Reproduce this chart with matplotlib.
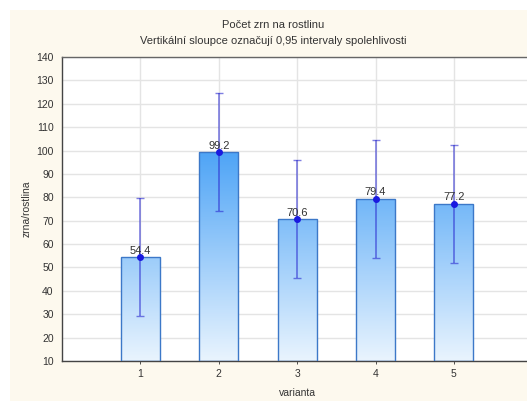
import numpy as np
import matplotlib
matplotlib.use("Agg")
import matplotlib.pyplot as plt
from matplotlib.patches import Rectangle
from matplotlib.colors import LinearSegmentedColormap

plt.rcParams['font.family'] = ['Liberation Sans', 'DejaVu Sans']

# prumery a 95% intervaly spolehlivosti
varianta = [1, 2, 3, 4, 5]
prumer = [54.4, 99.2, 70.6, 79.4, 77.2]
ci_half = [25.2, 25.2, 25.2, 25.2, 25.2]
yticks = list(range(10, 141, 10))

fig = plt.figure(figsize=(5.27, 4.01), dpi=100)
fig.patch.set_facecolor('white')
fig.patches.append(Rectangle((10 / 527, 0), 1, 391 / 401, transform=fig.transFigure,
                             facecolor='#fdf9ee', edgecolor='none', zorder=-10))

ax = fig.add_axes([62 / 527, 40 / 401, 1 - 62 / 527 + 0.01, 304 / 401])
ax.set_facecolor('white')
ax.set_xlim(0, 6)
ax.set_ylim(10, 140)

cmap = LinearSegmentedColormap.from_list('modra', ['#e9f4fe', '#4aa2f6'])
width = 0.5
for x, v in zip(varianta, prumer):
    # svisly gradient uvnitr sloupce
    grad = np.linspace(10, v, 200).reshape(-1, 1)
    img = ax.imshow(grad, extent=[x - width / 2, x + width / 2, 10, v], origin='lower',
                    cmap=cmap, vmin=10, vmax=102, aspect='auto', zorder=2)
    bar = ax.bar(x, v - 10, bottom=10, width=width, facecolor='none',
                 edgecolor='#3c78c8', linewidth=1.0, zorder=3)
    img.set_clip_path(bar.patches[0])

ax.errorbar(varianta, prumer, yerr=ci_half, fmt='none', ecolor='#2a2ad0', alpha=0.6,
            elinewidth=1.2, capsize=3, capthick=1.0, zorder=4)
ax.plot(varianta, prumer, 'o', color='#1a1ae0', markersize=4, zorder=5)

for x, v in zip(varianta, prumer):
    ax.text(x, v + 0.6, f'{v:.1f}', ha='center', va='bottom', fontsize=8,
            color='#333333', zorder=6)

ax.set_yticks(yticks)
ax.set_xticks(varianta)
ax.tick_params(axis='both', labelsize=7.5, colors='#333333', length=2, width=0.6)
ax.tick_params(axis='y', length=0, pad=6)
ax.grid(True, color='#e4e4e4', linewidth=1.0, zorder=0)
ax.set_axisbelow(True)
ax.spines['right'].set_visible(False)
ax.spines['top'].set_color('#666666')
ax.spines['top'].set_linewidth(1.0)
ax.spines['left'].set_color('#444444')
ax.spines['bottom'].set_color('#444444')
ax.spines['left'].set_linewidth(1.0)
ax.spines['bottom'].set_linewidth(1.0)

ax.set_xlabel('varianta', fontsize=7.5, color='#333333', labelpad=7)
ax.set_ylabel('zrna/rostlina', fontsize=7.5, color='#333333', labelpad=3)

fig.text(273 / 527, 1 - 25 / 401, 'Počet zrn na rostlinu', ha='center', va='center',
         fontsize=8, color='#333333')
fig.text(273 / 527, 1 - 41 / 401, 'Vertikální sloupce označují 0,95 intervaly spolehlivosti',
         ha='center', va='center', fontsize=8, color='#333333')

fig.savefig('out.png', dpi=100)
